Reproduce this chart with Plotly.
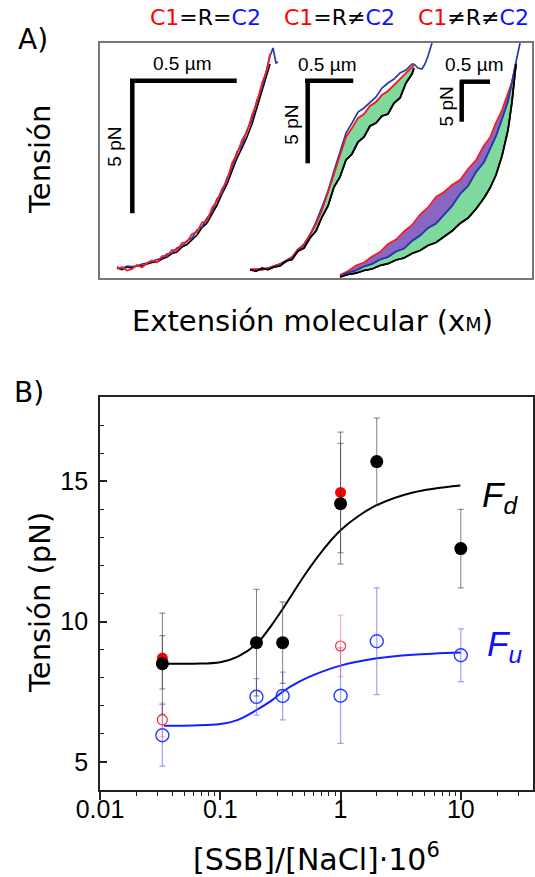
import plotly.graph_objects as go

W, H = 535, 877

# ---------------- Panel A data (arbitrary units: x along box, h = height) -------------
x1 = [117, 122, 127, 132, 137, 142, 147, 152, 157, 162, 167, 172, 177, 182, 187, 192,
      197, 202, 207, 212, 217, 222, 227, 232, 237, 242, 247, 252, 257, 262, 267, 270]
black1_h = [10, 8.5, 11, 10, 12.5, 12, 14, 15.5, 16, 19, 21, 24.5, 26, 31, 33.5, 38.5,
            43, 50.5, 55, 64, 73, 84, 94, 107, 120, 130, 141, 154, 171, 186, 203, 214]
blue1_h = [11, 9.5, 12, 11.5, 12, 14, 15, 17, 18.5, 20, 24, 25, 30, 32, 37, 40,
           48, 51, 60, 66, 79, 85, 100, 110, 126, 133, 148, 158, 178, 190, 210, 222]
red1_h = [9, 11, 7.5, 9, 13, 10.5, 15, 17.5, 15.5, 22, 22, 28, 27.5, 35, 36, 44,
          46, 55.5, 57, 70, 77, 89, 97, 115, 124, 138, 146, 163, 176, 195, 208, 224]
blue1_tail_x = [270, 273, 276, 278]
blue1_tail_h = [222, 230, 215, 216]

x2 = [250, 256, 262, 268, 274, 280, 286, 292, 298, 304, 310, 316, 322, 328, 334, 340,
      346, 352, 358, 364, 370, 376, 382, 388, 394, 400, 406, 412, 414]
black2_h = [8, 7, 9.5, 8.5, 11, 12, 17, 18.5, 27, 30, 40, 47, 61, 72, 91, 101,
            118, 124, 136, 141, 152, 155, 162, 164, 175, 180, 195, 204, 210]
blue2_h = [9, 8, 10, 9.5, 12, 14, 17.5, 21, 28, 34, 43, 56, 71, 87, 107, 126,
           145, 155, 166, 170, 176, 181, 190, 195, 199, 205, 208, 214, 214]
red2_h = [8.5, 9, 8, 10, 11.5, 13.5, 16, 20.5, 29, 33, 44, 54, 68, 85, 104, 123,
          141, 150, 160, 164, 172, 176, 183, 187, 193, 199, 205, 211, 213]
blue2_tail_x = [414, 418, 422, 425, 428, 432]
blue2_tail_h = [214, 210, 209, 214, 222, 235]

x3 = [340, 348, 356, 364, 372, 380, 388, 396, 404, 412, 420, 428, 436, 444, 452, 460,
      468, 476, 484, 490, 496, 502, 508, 512, 516]
black3_h = [1, 3.5, 4.8, 7.5, 9, 12.5, 14.3, 18, 20, 24.5, 27.5, 32.5, 35.5, 41.5, 47, 54.5,
            60, 69, 80, 90, 103, 122, 148, 176, 214]
blue3_h = [2, 5.5, 7.5, 11.5, 14, 18.5, 21, 26.5, 29.5, 37, 42.5, 50, 54.5, 63, 72, 84,
           92, 106, 116, 129, 142, 159, 177, 196, 216]
red3_h = [3, 7, 12.5, 15.5, 21.5, 26, 34, 38.5, 46.5, 53, 63.5, 70.5, 81, 86, 93, 98,
          109, 118, 132.5, 140.5, 155.5, 168, 185, 196, 211]
blue3_tail_x = [516, 518, 520]
blue3_tail_h = [216, 226, 235]

# ---------------- Panel B data -------------
fd_x = [0.033, 0.2, 0.33, 1, 2, 10]
fd_y = [8.5, 9.25, 9.25, 14.2, 15.7, 12.6]
fd_err = [1.8, 1.9, 1.45, 2.15, 1.55, 1.4]

fdr_x = [0.033, 1]
fdr_y = [8.7, 14.6]
fdr_err_plus = [0.8, 2.15]
fdr_err_minus = [1.1, 2.15]

fu_x = [0.033, 0.2, 0.33, 1, 2, 10]
fu_y = [5.95, 7.32, 7.35, 7.36, 9.3, 8.8]
fu_err = [1.1, 0.65, 0.85, 1.7, 1.9, 0.94]

fur_x = [0.033, 1]
fur_y = [6.5, 9.13]
fur_err = [0.6, 1.1]

fd_fit_x = [0.034, 0.06, 0.1, 0.14, 0.2, 0.27, 0.33, 0.4, 0.52, 0.73, 1.0, 1.4, 2.0, 4.0, 9.9]
fd_fit_y = [8.5, 8.5, 8.55, 8.75, 9.2, 9.9, 10.45, 11.0, 11.75, 12.6, 13.25, 13.75, 14.15,
            14.6, 14.85]
fu_fit_x = [0.034, 0.06, 0.1, 0.14, 0.2, 0.27, 0.33, 0.45, 0.6, 1, 2, 4, 10]
fu_fit_y = [6.29, 6.3, 6.35, 6.5, 6.85, 7.2, 7.5, 7.85, 8.1, 8.43, 8.69, 8.82, 8.9]

x_tick_vals = [0.01, 0.1, 1, 10]
x_tick_text = ["0.01", "0.1", "1", "10"]
y_tick_vals = [5, 10, 15]

RED_A = "#ff1a1a"
BLUE_A = "#2b3aa8"
GREEN = "#7fd89c"
PURPLE = "#8a66c2"

fig = go.Figure()

def line(x, y, color, width=1.7, fill=None, fillcolor=None, xa="x", ya="y", shape="linear"):
    fig.add_trace(go.Scatter(x=x, y=y, mode="lines",
                             line=dict(color=color, width=width, shape=shape),
                             fill=fill, fillcolor=fillcolor, xaxis=xa, yaxis=ya,
                             showlegend=False, hoverinfo="skip"))

# Curve set 1
line(x1, black1_h, "black")
line(x1, blue1_h, BLUE_A)
line(blue1_tail_x, blue1_tail_h, BLUE_A)
line(x1, red1_h, RED_A)
# Curve set 2
line(x2, black2_h, "black")
line(x2, red2_h, RED_A, fill="tonexty", fillcolor=GREEN)
line(x2, blue2_h, BLUE_A)
line(blue2_tail_x, blue2_tail_h, BLUE_A)
line(x2, red2_h, RED_A, width=1.3)
line(x2, black2_h, "black")
# Curve set 3
line(x3, black3_h, "black")
line(x3, blue3_h, BLUE_A, fill="tonexty", fillcolor=GREEN)
line(x3, red3_h, RED_A, fill="tonexty", fillcolor=PURPLE)
line(x3, blue3_h, BLUE_A)
line(x3, black3_h, "black")
line(blue3_tail_x, blue3_tail_h, BLUE_A)

# ---------------- Panel B traces -------------
line(fd_fit_x, fd_fit_y, "black", width=2, xa="x2", ya="y2", shape="spline")
line(fu_fit_x, fu_fit_y, "#1020ff", width=2, xa="x2", ya="y2", shape="spline")

fig.add_trace(go.Scatter(
    x=fu_x, y=fu_y, mode="markers", xaxis="x2", yaxis="y2", showlegend=False,
    marker=dict(size=13, color="rgba(0,0,0,0)", line=dict(color="#2a3cff", width=1.4)),
    error_y=dict(type="data", array=fu_err, color="rgba(90,100,255,0.6)", thickness=1.2, width=3)))
fig.add_trace(go.Scatter(
    x=fur_x, y=fur_y, mode="markers", xaxis="x2", yaxis="y2", showlegend=False,
    marker=dict(size=10, color="rgba(0,0,0,0)", line=dict(color="#ff3030", width=1.2)),
    error_y=dict(type="data", array=fur_err, color="rgba(255,90,90,0.5)", thickness=1, width=3)))
fig.add_trace(go.Scatter(
    x=fdr_x, y=fdr_y, mode="markers", xaxis="x2", yaxis="y2", showlegend=False,
    marker=dict(size=11, color="#ff0000"),
    error_y=dict(type="data", symmetric=False, array=fdr_err_plus, arrayminus=fdr_err_minus,
                 color="rgba(60,60,60,0.65)", thickness=1, width=3)))
fig.add_trace(go.Scatter(
    x=fd_x, y=fd_y, mode="markers", xaxis="x2", yaxis="y2", showlegend=False,
    marker=dict(size=13, color="black"),
    error_y=dict(type="data", array=fd_err, color="rgba(60,60,60,0.65)", thickness=1, width=3)))

def pxp(x):
    return x / W

def pyp(y):
    return 1 - y / H

minor_x = [m * 10 ** e for e in (-2, -1, 0, 1) for m in range(2, 10) if m * 10 ** e < 40]

fig.update_layout(
    width=W, height=H, margin=dict(l=0, r=0, t=0, b=0, pad=0, autoexpand=False),
    paper_bgcolor="white", plot_bgcolor="white",
    xaxis=dict(domain=[pxp(100), pxp(532)], range=[100, 532], showgrid=False, zeroline=False,
               showticklabels=False, ticks="", showline=True, mirror=True, automargin=False,
               linecolor="#777777", linewidth=1.5),
    yaxis=dict(domain=[pyp(278), pyp(43)], range=[0, 235], showgrid=False, zeroline=False,
               showticklabels=False, ticks="", showline=True, mirror=True, automargin=False,
               linecolor="#777777", linewidth=1.5),
    xaxis2=dict(domain=[pxp(100), pxp(533)], type="log", range=[-2, 1.6], anchor="y2",
                tickvals=x_tick_vals, ticktext=x_tick_text, ticks="outside", ticklen=8,
                tickwidth=1.5, tickcolor="#222", ticklabelstandoff=-12, automargin=False,
                minor=dict(tickvals=minor_x, ticks="outside", ticklen=4, tickwidth=1.3,
                           tickcolor="#222"),
                showgrid=False, zeroline=False, showline=True, mirror=True,
                linecolor="#222", linewidth=1.8,
                tickfont=dict(family="Liberation Sans", size=25, color="black")),
    yaxis2=dict(domain=[pyp(790), pyp(397)], range=[4, 18], anchor="x2", automargin=False,
                tickvals=y_tick_vals, ticks="inside", ticklen=7, tickwidth=1.5, tickcolor="#222",
                ticklabelstandoff=5,
                minor=dict(dtick=1, tick0=0, ticks="inside", ticklen=4, tickwidth=1.3,
                           tickcolor="#222"),
                showgrid=False, zeroline=False, showline=True, mirror=True,
                linecolor="#222", linewidth=1.8,
                tickfont=dict(family="Liberation Sans", size=25, color="black")),
)

# Scale bars (panel A)
bars = [
    (130, 197.3, 236.7, 197.3), (132.3, 198.5, 132.3, 64.7),
    (305, 197.3, 353.3, 197.3), (307.7, 198.5, 307.7, 114.7),
    (460, 196.3, 490, 196.3), (461.7, 197.5, 461.7, 156.3),
]
for (xa0, ya0, xa1, ya1) in bars:
    fig.add_shape(type="line", xref="x", yref="y", x0=xa0, y0=ya0, x1=xa1, y1=ya1,
                  line=dict(color="black", width=4.5))

ann = []
def add_text(text, x, y, size, family="DejaVu Sans", color="black", angle=0,
             xanchor="center", yanchor="middle", xref="paper", yref="paper"):
    ann.append(dict(text=text, x=x, y=y, xref=xref, yref=yref, showarrow=False,
                    font=dict(family=family, size=size, color=color), textangle=angle,
                    xanchor=xanchor, yanchor=yanchor))

for txt, xc in [("C1</span>=R=<span style='color:#1010ff'>C2", 205.6),
                ("C1</span>=R≠<span style='color:#1010ff'>C2", 339.6),
                ("C1</span>≠R≠<span style='color:#1010ff'>C2", 473.5)]:
    add_text("<span style='color:#ff0000'>" + txt + "</span>", pxp(xc), pyp(17), 22)

for xc, yc in [(182, 214.7), (326.7, 213), (474, 213)]:
    add_text("0.5 µm", xc, yc, 19, family="Liberation Sans", xref="x", yref="y")
for xc, yc in [(115, 131.3), (291.7, 153), (446.7, 171.3)]:
    add_text("5 pN", xc, yc, 19, family="Liberation Sans", angle=-90, xref="x", yref="y")

add_text("A)", pxp(33), pyp(40), 28)
add_text("B)", pxp(29), pyp(392), 28)
add_text("Tensión", pxp(40), pyp(160), 29, angle=-90)
add_text("Extensión molecular (x<span style='font-size:19px'>M</span>)", pxp(312), pyp(321), 29)
add_text("Tensión (pN)", pxp(40), pyp(603), 29, angle=-90)
add_text("[SSB]/[NaCl]·10<sup>6</sup>", pxp(316), pyp(857), 30)
add_text("<i>F<sub>d</sub></i>", pxp(480), pyp(497), 35, family="Liberation Sans",
         xanchor="left")
add_text("<i>F<sub>u</sub></i>", pxp(485), pyp(646), 35, family="Liberation Sans",
         color="#1010ff", xanchor="left")

fig.update_layout(annotations=ann)
fig.write_html("out.html")
